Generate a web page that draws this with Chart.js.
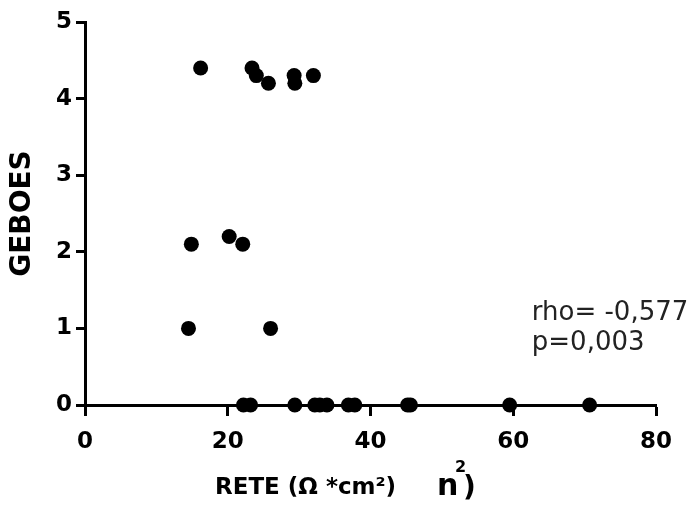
<!DOCTYPE html>
<html>
<head>
<meta charset="utf-8">
<script src="https://cdn.jsdelivr.net/npm/chart.js@4.4.1/dist/chart.umd.min.js"></script>
<style>
  html, body { margin: 0; padding: 0; background: #fff; }
  #wrap { width: 698px; height: 508px; }
</style>
</head>
<body>
<div id="wrap"><canvas id="c" width="698" height="508"></canvas></div>
<script>
// RETE (Ω*cm²) values and GEBOES scores
const reteValues = [16.2, 23.4, 24.0, 25.7, 29.3, 29.4, 32.0,
                    14.9, 20.2, 22.1,
                    14.5, 26.0,
                    22.2, 23.2, 29.4, 32.2, 32.9, 33.9, 36.9, 37.8, 45.2, 45.6, 59.5, 70.7];
const geboesValues = [4.4, 4.4, 4.3, 4.2, 4.3, 4.2, 4.3,
                      2.1, 2.2, 2.1,
                      1, 1,
                      0, 0, 0, 0, 0, 0, 0, 0, 0, 0, 0, 0];
const xTickValues = [0, 20, 40, 60, 80];
const yTickValues = [0, 1, 2, 3, 4, 5];
const yTitle = "GEBOES";
const xTitle = "RETE (Ω *cm²)";
const xTitleExtra = ["n", "2", ")"];
const statLines = ["rho= -0,577", "p=0,003"];

const points = reteValues.map((x, i) => ({ x: x, y: geboesValues[i] }));

const extraText = {
  id: 'extraText',
  afterDraw(chart) {
    const ctx = chart.ctx;
    const xs = chart.scales.x, ys = chart.scales.y;
    ctx.save();
    ctx.fillStyle = '#000';
    ctx.textAlign = 'left';
    ctx.textBaseline = 'alphabetic';
    // x-axis title
    ctx.font = 'bold 23px "DejaVu Sans"';
    ctx.fillText(xTitle, 215, 494);
    ctx.font = 'bold 30px "DejaVu Sans"';
    ctx.fillText(xTitleExtra[0], 437, 495);
    ctx.font = 'bold 16px "DejaVu Sans"';
    ctx.fillText(xTitleExtra[1], 455, 472);
    ctx.font = 'bold 28px "DejaVu Sans"';
    ctx.fillText(xTitleExtra[2], 463, 496);
    // statistics annotation
    ctx.fillStyle = '#222';
    ctx.font = '26px "DejaVu Sans"';
    const ax = xs.getPixelForValue(62.6);
    ctx.fillText(statLines[0], ax, ys.getPixelForValue(1.11));
    ctx.fillText(statLines[1], ax, ys.getPixelForValue(0.72));
    ctx.restore();
  }
};

new Chart(document.getElementById('c'), {
  type: 'scatter',
  data: {
    datasets: [{
      data: points,
      backgroundColor: '#000',
      borderColor: '#000',
      pointRadius: 7.5,
      pointHoverRadius: 7.5,
      borderWidth: 0,
      clip: false
    }]
  },
  options: {
    responsive: false,
    animation: false,
    devicePixelRatio: 1,
    layout: { padding: { left: 0, top: 22, right: 42, bottom: 0 } },
    plugins: { legend: { display: false }, tooltip: { enabled: false } },
    scales: {
      x: {
        type: 'linear',
        min: 0, max: 80,
        afterBuildTicks: s => { s.ticks = xTickValues.map(v => ({ value: v })); },
        afterFit: s => { s.height = 103; s.paddingLeft = 0; s.paddingRight = 0; },
        border: { display: true, color: '#000', width: 3 },
        grid: { display: true, drawOnChartArea: false, drawTicks: true, tickLength: 11, tickWidth: 3, tickColor: '#000', color: '#000' },
        ticks: { color: '#000', font: { family: 'DejaVu Sans', weight: 'bold', size: 23 }, padding: 12, maxRotation: 0 },
        title: { display: false }
      },
      y: {
        type: 'linear',
        min: 0, max: 5,
        afterBuildTicks: s => { s.ticks = yTickValues.map(v => ({ value: v })); },
        afterFit: s => { s.width = 85; s.paddingTop = 0; s.paddingBottom = 0; },
        border: { display: true, color: '#000', width: 3 },
        grid: { display: true, drawOnChartArea: false, drawTicks: true, tickLength: 9, tickWidth: 3, tickColor: '#000', color: '#000' },
        ticks: { color: '#000', font: { family: 'DejaVu Sans', weight: 'bold', size: 23 }, padding: 4 },
        title: { display: true, text: yTitle, color: '#000', font: { family: 'DejaVu Sans', weight: 'bold', size: 28 }, padding: { top: 6, bottom: 0 } }
      }
    }
  },
  plugins: [extraText]
});
</script>
</body>
</html>
